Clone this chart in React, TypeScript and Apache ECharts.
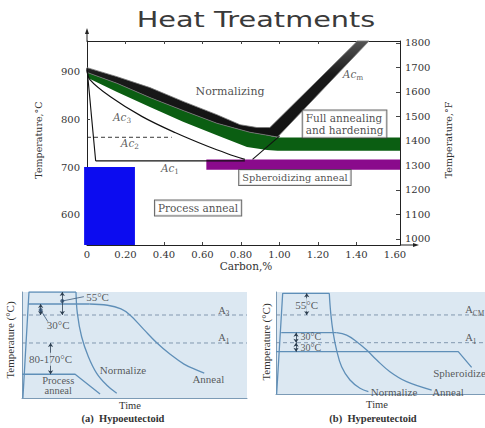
import React, { useEffect, useRef } from 'react';
import * as echarts from 'echarts';

// ---------------- Top chart: carbon % vs temperature ----------------
const carbonTicks = [0, 0.2, 0.4, 0.6, 0.8, 1.0, 1.2, 1.4, 1.6];
const carbonInnerTicks = [0.2, 0.4, 0.6, 0.8, 1.0, 1.2, 1.4];
const tempCTicks = [600, 700, 800, 900];
const tempFTicks = [1000, 1100, 1200, 1300, 1400, 1500, 1600, 1700, 1800];

// [carbon %, °C]
const normalizingBand = [
  [0, 909], [0.156, 890], [0.327, 867], [0.499, 838], [0.675, 810], [0.795, 789], [0.883, 783], [0.95, 783],
  [1.405, 965], [1.465, 965], [0.99, 763], [0.935, 767], [0.847, 773], [0.675, 792], [0.499, 819],
  [0.327, 846], [0.156, 876], [0, 899],
];
const fullAnnealBand = [
  [0, 899], [0.156, 876], [0.327, 846], [0.499, 819], [0.675, 792], [0.847, 773], [0.935, 767], [0.99, 762],
  [1.626, 762], [1.626, 734], [0.99, 734], [0.935, 736], [0.831, 742], [0.675, 767], [0.499, 795],
  [0.327, 826], [0.156, 858], [0.005, 887],
];
const processAnnealBlock = [[-0.015, 700], [0.249, 700], [0.249, 536], [-0.015, 536]];
const spheroidizeBlock = [[0.62, 716], [1.626, 716], [1.626, 694], [0.62, 694]];
const a3Curve = [[0, 905], [0.015, 884], [0.118, 849], [0.287, 806], [0.46, 772], [0.63, 743], [0.73, 728], [0.82, 716]];
const alphaBoundary = [[0, 908], [0.045, 713]];
const a1Line = [[0.045, 713], [0.82, 713]];
const a2Line = [[0, 762.5], [0.44, 762.5]];
const acmFoot = [[0.86, 716], [1.0, 765]];

const regionLabels: [string, number, number][] = [['Normalizing', 0.743, 858]];
const boxLabelsLeft: [string, number, number][] = [['Full annealing\nand hardening', 1.118, 790.5]];
const spheroidizeLabel: [string, number, number][] = [['Spheroidizing anneal', 1.08, 678]];
const processLabel: [string, number, number][] = [['Process anneal', 0.577, 613.7]];
const criticalLabels: [string, string, number, number][] = [
  ['Ac', '3', 0.182, 805],
  ['Ac', '2', 0.223, 750],
  ['Ac', '1', 0.431, 698],
  ['Ac', 'm', 1.382, 896],
];

// ---------------- Bottom panels (0-100 schematic units) ----------------
const hypoRampHold = [[0.4, 0], [3.1, 100], [24, 100]];
const hypoNormalize = [[24, 100], [24.6, 79.9], [26.5, 57.8], [29.5, 39], [33.2, 23.3], [37.6, 12.3], [42.1, 4.4]];
const hypoAnnealHold = [[2.8, 88.7], [30, 88.7]];
const hypoAnneal = [[30, 88.7], [38, 87.5], [44, 84], [48, 78.3], [54, 65], [60, 51.9], [66, 41], [72, 32], [78, 26], [81, 23.5]];
const hypoProcess = [[0, 22.4], [23.6, 22.4], [34.7, 3.8]];
const hypoA3 = [[0, 78.3], [100, 78.3]];
const hypoA1 = [[0, 51.9], [100, 51.9]];
const hypoArrows = [[17.9, 100, 17.9, 78.3], [8.3, 88.7, 8.3, 78.3], [12.7, 51.9, 12.7, 22.4]];
const hypoDots = [[17.9, 91.5], [8.3, 83]];
const hypoLeaders = [[[17.9, 91.5], [27.5, 95.6]], [[8.3, 83], [11.5, 72]]];
const hypoTextsCenter: [string, number, number][] = [
  ['30°C', 16.1, 68.9], ['Normalize', 44.9, 26.4], ['Anneal', 82.8, 17.6],
];
const hypoProcessTexts: [string, number, number][] = [['Process', 16.1, 16.8], ['anneal', 16.1, 7.4]];
const hypoTextsLeft: [string, number, number][] = [['55°C', 28.3, 95.6]];
const hypoTextsBg: [string, number, number][] = [['80-170°C', 12.7, 36.5]];
const hypoSubs: [string, string, number, number][] = [['A', '3', 87, 83], ['A', '1', 87, 57.3]];

const hyperRampHold = [[0.3, 0], [3.2, 98.7], [25.5, 98.7]];
const hyperNormalize = [[25.5, 98.7], [26.2, 79.1], [27.4, 59.5], [29, 43.1], [31.4, 26.8], [35.4, 13.7], [40.2, 5.6], [44.2, 2.3]];
const hyperAnnealHold = [[2.5, 60.1], [29, 60.1]];
const hyperAnneal = [[29, 60.1], [33.8, 57.8], [38.6, 51.3], [43.4, 43.1], [48.2, 33.3], [54.5, 21.9], [62.5, 12.1], [74.5, 3.9]];
const hyperSpheroidize = [[0, 41.5], [87.2, 41.5], [93.6, 26.1]];
const hyperAcm = [[0, 77.5], [100, 77.5]];
const hyperA1 = [[0, 50.3], [100, 50.3]];
const hyperArrows = [[14.7, 98.7, 14.7, 77.5], [9.6, 60.1, 9.6, 50.3], [9.6, 50.3, 9.6, 41.5]];
const hyperTextsCenter: [string, number, number][] = [['Normalize', 56.5, 2], ['Anneal', 82.3, 2]];
const hyperSmallTexts: [string, number, number][] = [['30°C', 11.5, 55.9], ['30°C', 11.5, 46.0]];
const hyperTextsLeft: [string, number, number][] = [['Spheroidize', 75, 20.3]];
const hyperTextsBg: [string, number, number][] = [['55°C', 14.7, 87.5]];
const hyperSubs: [string, string, number, number][] = [['A', 'CM', 90.3, 82.4], ['A', '1', 90.3, 55.6]];

const PANEL_BG = '#dce8f2';
const PANEL_LINE = '#5f8fb8';
const SERIF_TOP = 'DejaVu Serif';
const SERIF_BOT = 'Liberation Serif';
const TOP = 0;
const PANEL_A = 2;
const PANEL_B = 3;

function polygonSeries(points: number[][], fill: any, stroke: string | null, anchor: number[]) {
  return {
    type: 'custom', xAxisIndex: TOP, yAxisIndex: TOP, silent: true, clip: false, z: 2,
    data: [anchor],
    renderItem: (_p: any, api: any) => ({
      type: 'polygon',
      shape: { points: points.map((pt) => api.coord(pt)) },
      style: { fill, stroke: stroke || 'none', lineWidth: stroke ? 0.8 : 0 },
    }),
  };
}

function lineSeries(data: number[][], axis: number, color: string, width: number, opts: any = {}) {
  return {
    type: 'line', xAxisIndex: axis, yAxisIndex: axis, data, symbol: 'none', showSymbol: false, silent: true,
    z: 5, smooth: opts.smooth || false,
    lineStyle: { color, width, type: opts.dash || 'solid' },
  };
}

function textSeries(items: [string, number, number][], axis: number, label: any) {
  return {
    type: 'scatter', xAxisIndex: axis, yAxisIndex: axis, symbolSize: 1, silent: true, z: 10,
    itemStyle: { color: 'rgba(0,0,0,0)' },
    data: items.map((it) => ({ name: it[0], value: [it[1], it[2]] })),
    label: { show: true, position: 'inside', formatter: '{b}', ...label },
  };
}

function subSeries(items: [string, string, number, number][], axis: number, family: string, size: number, italic: boolean, position: any) {
  return {
    type: 'scatter', xAxisIndex: axis, yAxisIndex: axis, symbolSize: 1, silent: true, z: 10,
    itemStyle: { color: 'rgba(0,0,0,0)' },
    data: items.map((it) => ({ value: [it[2], it[3]], label: { formatter: `{m|${it[0]}}{s|${it[1]}}` } })),
    label: {
      show: true, position, distance: 0,
      rich: {
        m: { fontFamily: family, fontSize: size, fontStyle: italic ? 'italic' : 'normal', color: '#333', lineHeight: size + 4 },
        s: { fontFamily: family, fontSize: size * 0.7, fontStyle: 'normal', color: '#333', lineHeight: size * 0.7, verticalAlign: 'bottom' },
      },
    },
  };
}

function arrowSeries(items: number[][], axis: number) {
  return {
    type: 'lines', coordinateSystem: 'cartesian2d', xAxisIndex: axis, yAxisIndex: axis, silent: true, z: 6,
    symbol: ['arrow', 'arrow'], symbolSize: 4,
    lineStyle: { color: '#2c3e50', width: 0.8, opacity: 1 },
    data: items.map((a) => ({ coords: [[a[0], a[1]], [a[2], a[3]]] })),
  };
}

function panelAxis(grid: number) {
  return {
    gridIndex: grid, type: 'value', min: 0, max: 100,
    axisLine: { show: true, onZero: false, lineStyle: { color: '#7c9bb6', width: 1 } },
    axisTick: { show: false }, axisLabel: { show: false }, splitLine: { show: false },
  };
}

function buildOption(): any {
  const axisColor = '#222';
  const tickLabel = { fontFamily: SERIF_TOP, fontSize: 10, color: '#333' };
  const botLabel = { fontFamily: SERIF_BOT, fontSize: 11, color: '#333' };
  const boxStyle = {
    fontFamily: SERIF_TOP, fontSize: 10.5, color: '#222', backgroundColor: '#fff', borderColor: '#444',
    borderWidth: 1, padding: [2, 3, 1, 3], lineHeight: 12,
  };
  const blackGrad = new echarts.graphic.LinearGradient(0, 0, 0, 1, [
    { offset: 0, color: '#555' },
    { offset: 0.35, color: '#1a1a1a' },
    { offset: 1, color: '#111' },
  ]);
  return {
    animation: false,
    backgroundColor: '#ffffff',
    grid: [
      { left: 87, top: 41, width: 313, height: 204 },
      { left: 22, top: 292, width: 225, height: 106, show: true, backgroundColor: PANEL_BG, borderWidth: 0 },
      { left: 276, top: 292, width: 209, height: 102, show: true, backgroundColor: PANEL_BG, borderWidth: 0 },
    ],
    xAxis: [
      {
        gridIndex: 0, type: 'value', min: 0, max: 1.626, position: 'bottom',
        axisLine: { show: true, onZero: false, lineStyle: { color: axisColor, width: 1 } },
        axisTick: { show: true, inside: true, length: 3, customValues: carbonInnerTicks, lineStyle: { color: '#444' } },
        axisLabel: { show: true, customValues: carbonTicks, margin: 4, formatter: (v: number) => (v === 0 ? '0' : v.toFixed(2)), ...tickLabel },
        splitLine: { show: false },
      },
      {
        gridIndex: 0, type: 'value', min: 0, max: 1.626, position: 'top',
        axisLine: { show: true, onZero: false, lineStyle: { color: axisColor, width: 1 } },
        axisTick: { show: true, inside: true, length: 3, customValues: carbonInnerTicks, lineStyle: { color: '#444' } },
        axisLabel: { show: false }, splitLine: { show: false },
      },
      panelAxis(1),
      panelAxis(2),
    ],
    yAxis: [
      {
        gridIndex: 0, type: 'value', min: 536, max: 965, position: 'left',
        axisLine: { show: true, onZero: false, lineStyle: { color: axisColor, width: 1 } },
        axisTick: { show: true, inside: true, length: 3, customValues: tempCTicks, lineStyle: { color: '#444' } },
        axisLabel: { show: true, customValues: tempCTicks, margin: 7, formatter: (v: number) => String(v), ...tickLabel },
        splitLine: { show: false },
      },
      {
        gridIndex: 0, type: 'value', min: 975.5, max: 1808, position: 'right',
        axisLine: { show: true, onZero: false, lineStyle: { color: axisColor, width: 1 } },
        axisTick: { show: true, inside: true, length: 4, customValues: tempFTicks, lineStyle: { color: '#444' } },
        axisLabel: { show: true, customValues: tempFTicks, margin: 5, formatter: (v: number) => String(v), ...tickLabel },
        splitLine: { show: false },
      },
      panelAxis(1),
      panelAxis(2),
    ],
    graphic: [
      { type: 'text', x: 256, y: 20, scaleX: 1.37, style: { text: 'Heat Treatments', fontSize: 21, fontFamily: 'DejaVu Sans', fill: '#3a3a3a', textAlign: 'center', textVerticalAlign: 'middle' } },
      { type: 'text', x: 38, y: 140, rotation: Math.PI / 2, style: { text: 'Temperature,°C', fontSize: 9.5, fontFamily: SERIF_TOP, fill: '#333', textAlign: 'center', textVerticalAlign: 'middle' } },
      { type: 'text', x: 448, y: 140, rotation: Math.PI / 2, style: { text: 'Temperature,°F', fontSize: 9.5, fontFamily: SERIF_TOP, fill: '#333', textAlign: 'center', textVerticalAlign: 'middle' } },
      { type: 'text', x: 246, y: 266, style: { text: 'Carbon,%', fontSize: 10.5, fontFamily: SERIF_TOP, fill: '#333', textAlign: 'center', textVerticalAlign: 'middle' } },
      { type: 'line', shape: { x1: 87, y1: 41, x2: 87, y2: 32 }, style: { stroke: axisColor, lineWidth: 1 } },
      { type: 'polygon', shape: { points: [[87, 28], [85, 34], [89, 34]] }, style: { fill: axisColor } },
      { type: 'line', shape: { x1: 400, y1: 245, x2: 415, y2: 245 }, style: { stroke: axisColor, lineWidth: 1 } },
      { type: 'polygon', shape: { points: [[419, 245], [413, 243], [413, 247]] }, style: { fill: axisColor } },
      { type: 'text', x: 10, y: 340, rotation: Math.PI / 2, style: { text: 'Temperature (°C)', fontSize: 11, fontFamily: SERIF_BOT, fill: '#333', textAlign: 'center', textVerticalAlign: 'middle' } },
      { type: 'text', x: 266, y: 342, rotation: Math.PI / 2, style: { text: 'Temperature (°C)', fontSize: 11, fontFamily: SERIF_BOT, fill: '#333', textAlign: 'center', textVerticalAlign: 'middle' } },
      { type: 'text', x: 130, y: 405, style: { text: 'Time', fontSize: 10.5, fontFamily: SERIF_BOT, fill: '#333', textAlign: 'center', textVerticalAlign: 'middle' } },
      { type: 'text', x: 377, y: 404, style: { text: 'Time', fontSize: 10.5, fontFamily: SERIF_BOT, fill: '#333', textAlign: 'center', textVerticalAlign: 'middle' } },
      { type: 'text', x: 123, y: 418, style: { text: '(a)  Hypoeutectoid', fontSize: 10.5, fontWeight: 'bold', fontFamily: SERIF_BOT, fill: '#333', textAlign: 'center', textVerticalAlign: 'middle' } },
      { type: 'text', x: 373, y: 418, style: { text: '(b)  Hypereutectoid', fontSize: 10.5, fontWeight: 'bold', fontFamily: SERIF_BOT, fill: '#333', textAlign: 'center', textVerticalAlign: 'middle' } },
    ],
    series: [
      // top chart regions
      polygonSeries(fullAnnealBand, '#0b5e12', null, [0.5, 700]),
      polygonSeries(normalizingBand, blackGrad, '#777', [0.5, 700]),
      polygonSeries(processAnnealBlock, '#0c0cf0', null, [0.5, 700]),
      polygonSeries(spheroidizeBlock, '#8a0a8c', null, [0.5, 700]),
      lineSeries(a3Curve, TOP, '#111', 1.2, { smooth: 0.35 }),
      lineSeries(alphaBoundary, TOP, '#111', 1.1),
      lineSeries(a1Line, TOP, '#111', 1.1),
      lineSeries(a2Line, TOP, '#222', 0.9, { dash: [4, 3] }),
      lineSeries(acmFoot, TOP, '#111', 1.1),
      textSeries(regionLabels, TOP, { fontFamily: SERIF_TOP, fontSize: 11, color: '#222' }),
      textSeries(boxLabelsLeft, TOP, { ...boxStyle, position: 'right', distance: 0, align: 'left' }),
      textSeries(spheroidizeLabel, TOP, { ...boxStyle, fontSize: 9.8, align: 'center' }),
      textSeries(processLabel, TOP, { ...boxStyle, align: 'center' }),
      subSeries(criticalLabels, TOP, SERIF_TOP, 10.5, true, 'inside'),

      // panel (a) hypoeutectoid
      lineSeries(hypoA3, PANEL_A, '#7890a8', 0.9, { dash: [4, 3] }),
      lineSeries(hypoA1, PANEL_A, '#7890a8', 0.9, { dash: [4, 3] }),
      lineSeries(hypoRampHold, PANEL_A, PANEL_LINE, 1.3),
      lineSeries(hypoNormalize, PANEL_A, PANEL_LINE, 1.3, { smooth: 0.4 }),
      lineSeries(hypoAnnealHold, PANEL_A, PANEL_LINE, 1.3),
      lineSeries(hypoAnneal, PANEL_A, PANEL_LINE, 1.3, { smooth: 0.4 }),
      lineSeries(hypoProcess, PANEL_A, PANEL_LINE, 1.3),
      lineSeries(hypoLeaders[0], PANEL_A, '#3e5a78', 0.8),
      lineSeries(hypoLeaders[1], PANEL_A, '#3e5a78', 0.8),
      arrowSeries(hypoArrows, PANEL_A),
      {
        type: 'scatter', xAxisIndex: PANEL_A, yAxisIndex: PANEL_A, symbolSize: 4, silent: true, z: 7,
        itemStyle: { color: '#2c4a6c' }, data: hypoDots,
      },
      textSeries(hypoTextsCenter, PANEL_A, { ...botLabel }),
      textSeries(hypoProcessTexts, PANEL_A, { ...botLabel, fontSize: 10.5, lineHeight: 10 }),
      textSeries(hypoTextsLeft, PANEL_A, { ...botLabel, position: 'right', distance: 0 }),
      textSeries(hypoTextsBg, PANEL_A, { ...botLabel, backgroundColor: PANEL_BG, padding: [1, 0] }),
      subSeries(hypoSubs, PANEL_A, SERIF_BOT, 10.5, false, 'right'),

      // panel (b) hypereutectoid
      lineSeries(hyperAcm, PANEL_B, '#7890a8', 0.9, { dash: [4, 3] }),
      lineSeries(hyperA1, PANEL_B, '#7890a8', 0.9, { dash: [4, 3] }),
      lineSeries(hyperRampHold, PANEL_B, PANEL_LINE, 1.3),
      lineSeries(hyperNormalize, PANEL_B, PANEL_LINE, 1.3, { smooth: 0.4 }),
      lineSeries(hyperAnnealHold, PANEL_B, PANEL_LINE, 1.3),
      lineSeries(hyperAnneal, PANEL_B, PANEL_LINE, 1.3, { smooth: 0.4 }),
      lineSeries(hyperSpheroidize, PANEL_B, PANEL_LINE, 1.3),
      arrowSeries(hyperArrows, PANEL_B),
      textSeries(hyperTextsCenter, PANEL_B, { ...botLabel }),
      textSeries(hyperSmallTexts, PANEL_B, { ...botLabel, fontSize: 10, lineHeight: 9, position: 'right', distance: 0 }),
      textSeries(hyperTextsLeft, PANEL_B, { ...botLabel, position: 'right', distance: 0 }),
      textSeries(hyperTextsBg, PANEL_B, { ...botLabel, backgroundColor: PANEL_BG, padding: [1, 0] }),
      subSeries(hyperSubs, PANEL_B, SERIF_BOT, 10.5, false, 'right'),
    ],
  };
}

export default function App() {
  const ref = useRef<HTMLDivElement>(null);
  useEffect(() => {
    if (!ref.current) return;
    const chart = echarts.init(ref.current, undefined, { renderer: 'svg' });
    chart.setOption(buildOption());
    return () => chart.dispose();
  }, []);
  return (
    <div
      ref={ref}
      style={{ position: 'fixed', left: 0, top: 0, width: 485, height: 428, background: '#fff' }}
    />
  );
}
